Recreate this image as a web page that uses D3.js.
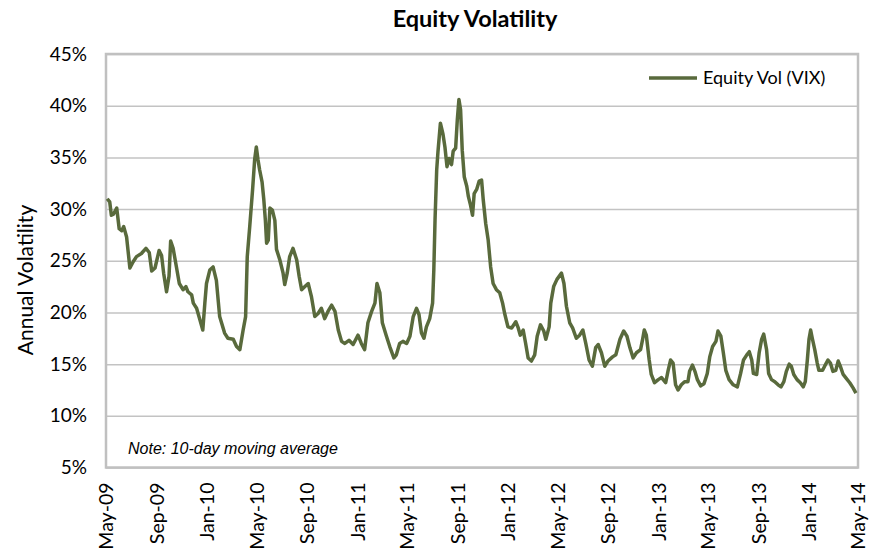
<!DOCTYPE html>
<html>
<head>
<meta charset="utf-8">
<script src="https://cdn.jsdelivr.net/npm/d3@7"></script>
<style>
  body { margin: 0; background: #fff; }
  #chart text { font-family: Lato, "Open Sans", sans-serif; fill: #000; }
</style>
</head>
<body>
<div id="chart"></div>
<script>
var title = "Equity Volatility";
var seriesName = "Equity Vol (VIX)";
var yLabel = "Annual Volatility";
var note = "Note: 10-day moving average";
var yTicks = [5, 10, 15, 20, 25, 30, 35, 40, 45];

var dates = [
  "2009-05-04","2009-05-10","2009-05-14","2009-05-19","2009-05-27","2009-06-02","2009-06-08","2009-06-13","2009-06-20","2009-06-28",
  "2009-07-06","2009-07-14","2009-07-26","2009-08-06","2009-08-14","2009-08-20","2009-08-28","2009-09-07","2009-09-13","2009-09-18",
  "2009-09-25","2009-10-01","2009-10-05","2009-10-11","2009-10-19","2009-10-26","2009-11-04","2009-11-11","2009-11-16","2009-11-25",
  "2009-11-29","2009-12-07","2009-12-15","2009-12-22","2009-12-27","2009-12-31","2010-01-08","2010-01-16","2010-01-24","2010-02-01",
  "2010-02-13","2010-02-21","2010-03-06","2010-03-14","2010-03-22","2010-03-30","2010-04-05","2010-04-09","2010-04-15","2010-04-22",
  "2010-04-27","2010-05-01","2010-05-05","2010-05-09","2010-05-15","2010-05-19","2010-05-23","2010-05-26","2010-05-30","2010-06-03",
  "2010-06-09","2010-06-15","2010-06-19","2010-06-27","2010-07-05","2010-07-09","2010-07-15","2010-07-21","2010-07-29","2010-08-07",
  "2010-08-13","2010-08-19","2010-08-27","2010-09-04","2010-09-12","2010-09-20","2010-09-28","2010-10-06","2010-10-14","2010-10-22",
  "2010-10-31","2010-11-08","2010-11-16","2010-11-24","2010-12-02","2010-12-12","2010-12-22","2011-01-03","2011-01-11","2011-01-19",
  "2011-01-27","2011-02-05","2011-02-13","2011-02-18","2011-02-25","2011-03-03","2011-03-13","2011-03-21","2011-03-31","2011-04-06",
  "2011-04-14","2011-04-22","2011-05-01","2011-05-09","2011-05-17","2011-05-25","2011-05-31","2011-06-06","2011-06-12","2011-06-18",
  "2011-06-26","2011-07-03","2011-07-06","2011-07-09","2011-07-13","2011-07-16","2011-07-22","2011-07-28","2011-08-02","2011-08-07",
  "2011-08-12","2011-08-18","2011-08-22","2011-08-28","2011-09-01","2011-09-05","2011-09-09","2011-09-13","2011-09-18","2011-09-24",
  "2011-09-28","2011-10-03","2011-10-08","2011-10-12","2011-10-18","2011-10-24","2011-10-30","2011-11-03","2011-11-09","2011-11-15",
  "2011-11-21","2011-11-27","2011-12-05","2011-12-13","2011-12-20","2011-12-25","2012-01-02","2012-01-11","2012-01-21","2012-01-27",
  "2012-02-01","2012-02-08","2012-02-14","2012-02-20","2012-02-28","2012-03-07","2012-03-13","2012-03-21","2012-03-29","2012-04-03",
  "2012-04-11","2012-04-15","2012-04-22","2012-04-30","2012-05-11","2012-05-17","2012-05-23","2012-05-31","2012-06-07","2012-06-16",
  "2012-06-24","2012-07-02","2012-07-09","2012-07-17","2012-07-25","2012-08-02","2012-08-08","2012-08-16","2012-08-24","2012-09-01",
  "2012-09-12","2012-09-20","2012-09-30","2012-10-09","2012-10-17","2012-10-24","2012-11-01","2012-11-09","2012-11-19","2012-11-24",
  "2012-11-28","2012-12-03","2012-12-10","2012-12-15","2012-12-23","2013-01-01","2013-01-09","2013-01-19","2013-01-25","2013-01-31",
  "2013-02-06","2013-02-12","2013-02-18","2013-02-26","2013-03-06","2013-03-14","2013-03-18","2013-03-25","2013-03-31","2013-04-06",
  "2013-04-14","2013-04-22","2013-04-30","2013-05-06","2013-05-13","2013-05-21","2013-05-26","2013-06-02","2013-06-08","2013-06-14",
  "2013-06-22","2013-07-02","2013-07-12","2013-07-20","2013-07-27","2013-08-04","2013-08-10","2013-08-16","2013-08-20","2013-08-28",
  "2013-09-03","2013-09-09","2013-09-14","2013-09-21","2013-09-26","2013-10-03","2013-10-11","2013-10-19","2013-10-26","2013-11-02",
  "2013-11-08","2013-11-15","2013-11-20","2013-11-26","2013-12-04","2013-12-12","2013-12-19","2013-12-24","2013-12-29","2014-01-02",
  "2014-01-06","2014-01-10","2014-01-16","2014-01-22","2014-01-26","2014-02-04","2014-02-09","2014-02-17","2014-02-23","2014-03-01",
  "2014-03-08","2014-03-14","2014-03-19","2014-03-26","2014-04-03","2014-04-11","2014-04-19","2014-04-26"
];

var vix = [
  31.0,30.7,29.4,29.5,30.1,28.1,27.9,28.3,27.3,24.3,
  24.9,25.4,25.7,26.2,25.8,24.0,24.3,26.0,25.5,23.8,
  22.0,23.5,26.9,26.2,24.4,22.8,22.2,22.5,22.0,21.7,
  20.9,20.4,19.3,18.3,20.9,22.8,24.1,24.4,23.1,19.6,
  18.0,17.5,17.4,16.7,16.4,18.3,19.6,25.4,28.3,31.9,
  34.8,36.0,34.8,33.8,32.6,31.0,28.9,26.7,27.0,30.1,
  29.9,28.9,26.1,25.1,23.8,22.7,23.8,25.4,26.2,25.1,
  23.5,22.2,22.5,22.8,21.5,19.6,19.9,20.4,19.4,20.1,
  20.7,20.1,18.3,17.2,17.0,17.3,16.9,17.8,17.0,16.4,
  19.0,20.1,20.9,22.8,21.9,19.0,17.7,16.7,15.6,15.9,
  17.0,17.2,17.0,17.7,19.6,20.4,19.8,18.0,17.5,18.6,
  19.4,20.9,24.1,29.0,33.8,35.5,38.3,37.3,36.0,34.1,
  34.9,34.3,35.6,35.9,38.6,40.6,39.6,35.7,33.1,32.2,
  31.2,30.4,29.4,31.5,31.9,32.7,32.8,30.9,28.6,27.0,
  24.4,22.8,22.2,21.9,20.9,19.9,18.6,18.5,19.1,18.5,
  17.8,18.3,17.0,15.6,15.3,15.9,17.7,18.8,18.2,17.4,
  18.6,20.9,22.5,23.2,23.8,22.8,20.6,19.0,18.5,17.5,
  17.8,18.3,17.0,15.4,14.8,16.6,16.9,16.1,14.8,15.3,
  15.7,15.9,17.4,18.2,17.7,16.6,15.6,16.1,16.4,17.4,
  18.3,17.8,15.4,14.0,13.2,13.5,13.7,13.2,14.4,15.4,
  15.1,13.0,12.5,13.0,13.3,13.3,14.3,14.9,14.3,13.5,
  12.9,13.1,14.1,15.7,16.7,17.2,18.2,17.7,16.1,14.4,
  13.5,13.0,12.8,14.1,15.4,15.9,16.2,15.4,14.1,14.0,
  16.1,17.4,17.9,16.4,14.1,13.5,13.3,13.0,12.8,13.3,
  14.3,15.0,14.8,14.0,13.5,13.2,12.8,13.3,15.4,17.4,
  18.3,17.5,16.4,15.1,14.4,14.4,14.8,15.4,15.1,14.3,
  14.4,15.3,14.8,14.0,13.6,13.2,12.7,12.2
];

var lineColor = "#596a3c";
var width = 876, height = 551;
var plotLeft = 106, plotRight = 858, plotTop = 54, plotBottom = 467.5;

var parseDate = d3.timeParse("%Y-%m-%d");
var data = dates.map(function(d, i){ return {date: parseDate(d), value: vix[i]}; });

var svg = d3.select("#chart")
    .append("svg")
    .attr("width", width)
    .attr("height", height);

var xScale = d3.scaleTime()
    .domain([new Date(2009, 4, 1), new Date(2014, 4, 1)])
    .range([plotLeft, plotRight]);

var yScale = d3.scaleLinear()
    .domain([5, 45])
    .range([plotBottom, plotTop]);

// gridlines
svg.append("g")
    .attr("transform", "translate(" + plotLeft + ",0)")
    .call(d3.axisLeft(yScale).tickValues(yTicks).tickSize(-(plotRight - plotLeft)).tickFormat(""))
    .call(function(g){ g.select(".domain").remove(); })
    .selectAll("line")
    .attr("stroke", "#c3c3c3")
    .attr("stroke-width", 1.5);

// plot frame
svg.append("rect")
    .attr("x", plotLeft)
    .attr("y", plotTop)
    .attr("width", plotRight - plotLeft)
    .attr("height", plotBottom - plotTop)
    .attr("fill", "none")
    .attr("stroke", "#c0c0c0")
    .attr("stroke-width", 2.5);

// y tick labels
svg.append("g")
    .attr("transform", "translate(" + plotLeft + ",0)")
    .call(d3.axisLeft(yScale).tickValues(yTicks).tickSize(0).tickPadding(19).tickFormat(function(d){ return d + "%"; }))
    .call(function(g){ g.select(".domain").remove(); })
    .selectAll("text")
    .attr("font-size", 19)
    .style("font-family", "Lato");

// x tick labels
var xAxis = d3.axisBottom(xScale)
    .ticks(d3.timeMonth.every(4))
    .tickSize(0)
    .tickFormat(d3.timeFormat("%b-%y"));

svg.append("g")
    .attr("transform", "translate(0," + plotBottom + ")")
    .call(xAxis)
    .call(function(g){ g.select(".domain").remove(); })
    .selectAll("text")
    .attr("font-size", 19.5)
    .style("font-family", "Lato")
    .attr("text-anchor", "end")
    .attr("dy", "0.35em")
    .attr("transform", "translate(0,15) rotate(-90)")
    .attr("x", 0)
    .attr("y", 0);

// the line
var line = d3.line()
    .x(function(d){ return xScale(d.date); })
    .y(function(d){ return yScale(d.value); });

svg.append("path")
    .datum(data)
    .attr("fill", "none")
    .attr("stroke", lineColor)
    .attr("stroke-width", 3.5)
    .attr("stroke-linejoin", "round")
    .attr("d", line);

// title
svg.append("text")
    .attr("x", 475)
    .attr("y", 27)
    .attr("text-anchor", "middle")
    .attr("font-size", 23.5)
    .attr("font-weight", "bold")
    .text(title);

// y axis title
svg.append("text")
    .attr("transform", "translate(33,280) rotate(-90)")
    .attr("text-anchor", "middle")
    .attr("font-size", 21)
    .text(yLabel);

// legend
var legend = svg.append("g").attr("transform", "translate(649,78)");
legend.append("line")
    .attr("x1", 0).attr("x2", 48)
    .attr("stroke", lineColor)
    .attr("stroke-width", 3.5);
legend.append("text")
    .attr("x", 54)
    .attr("dy", "0.35em")
    .attr("font-size", 18)
    .text(seriesName);

// note
svg.append("text")
    .attr("x", 128)
    .attr("y", 454)
    .attr("font-size", 16)
    .attr("font-style", "italic")
    .style("font-family", "'Liberation Sans', Arial, sans-serif")
    .text(note);
</script>
</body>
</html>
